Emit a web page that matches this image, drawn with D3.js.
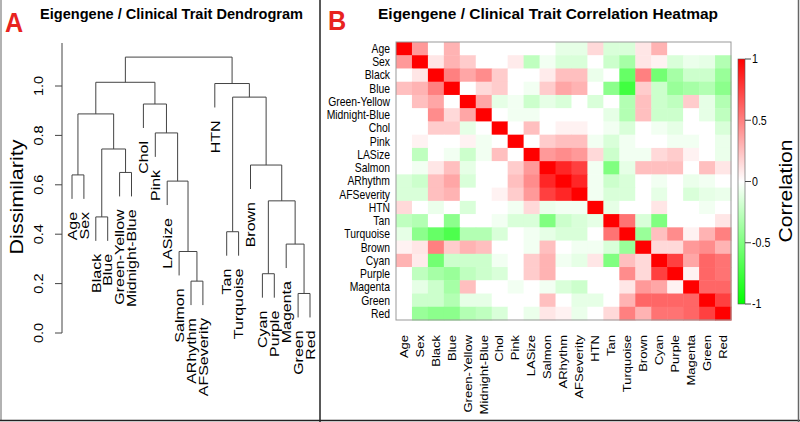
<!DOCTYPE html>
<html><head><meta charset="utf-8">
<script src="https://cdn.jsdelivr.net/npm/d3@7"></script>
<style>body{margin:0;background:#fff}svg{display:block;font-family:"Liberation Sans",Arial,Helvetica,sans-serif}</style>
</head><body><svg id="c" width="800" height="422"></svg>
<script>
const labels = ["Age","Sex","Black","Blue","Green-Yellow","Midnight-Blue","Chol","Pink","LASize","Salmon","ARhythm","AFSeverity","HTN","Tan","Turquoise","Brown","Cyan","Purple","Magenta","Green","Red"];

const corr = [
 [1,0.4,0,0.3,0,0,0,0,0,0,-0.1,-0.1,0.15,-0.15,-0.15,0.1,0.3,0,0,0,0],
 [0.4,1,0.1,0.3,0.2,0,0,0.08,-0.25,-0.05,-0.15,-0.15,0,-0.2,-0.35,0.1,0.05,-0.15,-0.08,-0.1,-0.3],
 [0,0.1,1,0.5,0.35,0.45,0.2,0,0,0.08,0.25,0.25,-0.08,0,-0.6,0.5,-0.55,-0.35,-0.2,-0.2,-0.4],
 [0.25,0.3,0.5,1,0,0.15,0.2,0,-0.05,0.2,0.35,0.3,0,-0.45,-0.75,0.2,-0.2,-0.4,-0.35,-0.3,-0.45],
 [0,0.25,0.35,0,1,0.35,-0.1,-0.05,-0.2,-0.1,-0.15,0,-0.15,0,-0.3,0.25,-0.2,-0.25,0.2,-0.1,-0.3],
 [0,0,0.45,0.15,0.35,1,0,-0.05,-0.05,0,0,0,0,-0.1,-0.3,0.25,-0.2,-0.2,0,-0.1,-0.25],
 [0,0,0.2,0.2,-0.1,0,1,0,0.25,0,0.05,0.05,0,-0.05,-0.15,0,-0.05,-0.1,0,0,-0.15],
 [0,0.05,0,0,0.05,-0.05,0,1,0,0.2,0.25,0.25,-0.05,-0.15,-0.05,0,0,-0.05,-0.05,0,-0.08],
 [0,-0.25,0,-0.05,-0.2,-0.05,0.25,0,1,0.4,0.45,0.4,0.15,-0.2,-0.05,-0.05,0.15,0.2,0.05,0,-0.08],
 [0,-0.05,0.1,0.25,-0.1,0,0,0.2,0.4,1,0.85,0.75,-0.05,-0.5,-0.1,0.25,0.25,0.25,0,0.25,0.1],
 [-0.15,-0.2,0.25,0.35,-0.15,0,0,0.25,0.45,0.85,1,0.85,-0.05,-0.2,-0.15,0,-0.05,0,-0.08,-0.05,0],
 [-0.15,-0.15,0.25,0.3,0,0,0.05,0.2,0.4,0.75,0.85,1,-0.05,-0.15,-0.15,0,-0.1,0,-0.15,-0.1,-0.08],
 [0.15,0,-0.08,0,-0.15,0,0,-0.05,0.15,-0.08,-0.05,-0.05,1,-0.1,0,0,0.1,0,0,-0.05,0],
 [-0.25,-0.3,0,-0.45,0,0,-0.05,-0.15,-0.15,-0.5,-0.2,-0.15,-0.1,1,0.55,-0.15,-0.5,0,0,0,0.1],
 [-0.1,-0.45,-0.6,-0.7,-0.3,-0.3,-0.15,0,-0.05,-0.1,-0.15,-0.15,0,0.55,1,-0.4,0.25,0.45,0.05,0.3,0.5],
 [0.05,0.1,0.5,0.2,0.3,0.25,0,0,-0.05,0.25,0,-0.05,-0.05,-0.15,-0.4,1,0.15,0.15,0.4,0.45,0.3],
 [0.3,0.08,-0.55,-0.2,-0.2,-0.2,-0.05,0,0.2,0.3,-0.05,-0.1,0.1,-0.5,0.25,0.15,1,0.75,0.35,0.6,0.55],
 [0,-0.25,-0.35,-0.4,-0.25,-0.2,-0.15,0,0.2,0.3,0,0,0,0,0.45,0.15,0.75,1,0.05,0.6,0.55],
 [0,-0.1,-0.2,-0.35,0.25,0,0,-0.05,0,-0.05,-0.15,-0.2,0,0,0.1,0.4,0.35,0.05,1,0.6,0.6],
 [0,-0.2,-0.2,-0.3,-0.1,-0.1,0,0,0,0.25,0,-0.1,-0.1,0,0.3,0.6,0.6,0.6,0.6,1,0.75],
 [0,-0.4,-0.45,-0.45,-0.3,-0.25,-0.15,0,-0.08,0.1,0.05,-0.08,0,0.15,0.5,0.3,0.55,0.55,0.6,0.75,1]
];

// hclust-style merges: negative = leaf (1-based), positive = earlier merge (1-based)
const mergePairs = [[-1,-2],[-3,-4],[-5,-6],[2,3],[1,4],[-11,-12],[-10,6],[-9,7],[-8,8],[-7,9],[5,10],
  [-14,-15],[-20,-21],[-19,13],[-17,-18],[15,14],[-16,16],[12,17],[-13,18],[11,19]];
const mergeHeights = [0.64,0.47,0.65,0.745,0.887,0.21,0.33,0.615,0.81,0.927,1.015,
  0.41,0.16,0.36,0.24,0.535,0.68,0.955,1.01,1.117];
const dissimTicks = [0,0.2,0.4,0.6,0.8,1.0];
const legendTicks = [1,0.5,0,-0.5,-1];

const svg = d3.select("#c");
function txt(g, x, y, s, o) {
  o = o || {};
  const t = g.append("text")
    .attr("transform", `translate(${x},${y}) scale(${o.sx||1},1) rotate(${o.rot||0})`)
    .attr("font-size", o.size || 12)
    .attr("font-weight", o.bold ? "bold" : null)
    .attr("fill", o.fill || "#000")
    .attr("text-anchor", o.anchor || "start")
    .text(s);
  if (o.dy) t.attr("dy", o.dy);
  if (o.len) t.attr("textLength", o.len).attr("lengthAdjust", "spacingAndGlyphs");
  return t;
}

// panel borders
svg.append("line").attr("x1",1).attr("y1",0).attr("x2",1).attr("y2",421).attr("stroke","#999").attr("stroke-width",1.5);
svg.append("line").attr("x1",0).attr("y1",420.5).attr("x2",800).attr("y2",420.5).attr("stroke","#222").attr("stroke-width",1.5);
svg.append("line").attr("x1",320).attr("y1",0).attr("x2",320).attr("y2",422).attr("stroke","#222").attr("stroke-width",1.5);
svg.append("line").attr("x1",798.5).attr("y1",0).attr("x2",798.5).attr("y2",422).attr("stroke","#666").attr("stroke-width",1.5);

// ===== Panel A: dendrogram =====
const gA = svg.append("g");
txt(gA, 5, 32, "A", {size: 28, bold: true, fill: "#e8231f", sx: 0.9});
txt(gA, 40, 19, "Eigengene / Clinical Trait Dendrogram", {size: 15.5, bold: true, len: 263});

const xL = d3.scalePoint().domain(labels).range([72, 310]);
const yD = d3.scaleLinear().domain([0, 1]).range([333, 86]);
const hang = 0.097;

// axis
gA.append("line").attr("x1",62).attr("x2",62).attr("y1",yD(0)).attr("y2",43).attr("stroke","#444");
dissimTicks.forEach(t => {
  gA.append("line").attr("x1",55).attr("x2",62).attr("y1",yD(t)).attr("y2",yD(t)).attr("stroke","#444");
  txt(gA, 43, yD(t), t.toFixed(1), {size: 14.5, rot: -90, anchor: "middle", sx: 0.85});
});
txt(gA, 23, 197, "Dissimilarity", {size: 21, rot: -90, anchor: "middle", len: 115, sx: 0.85});

// dendrogram nodes
const nodes = [];
function childInfo(id) {
  if (id < 0) return {leaf: true, idx: -id - 1, x: xL(labels[-id - 1])};
  return {leaf: false, x: nodes[id - 1].x, h: mergeHeights[id - 1]};
}
mergePairs.forEach((p, i) => {
  const h = mergeHeights[i];
  const a = childInfo(p[0]), b = childInfo(p[1]);
  const ya = a.leaf ? yD(h - hang) : yD(a.h);
  const yb = b.leaf ? yD(h - hang) : yD(b.h);
  gA.append("path")
    .attr("d", `M${a.x},${ya}V${yD(h)}H${b.x}V${yb}`)
    .attr("fill","none").attr("stroke","#444").attr("stroke-width",1);
  [a, b].forEach(c => {
    if (c.leaf) txt(gA, c.x, yD(h - hang) + 13, labels[c.idx], {size: 16, rot: -90, anchor: "end", dy: "0.35em", sx: 0.85});
  });
  nodes.push({x: (a.x + b.x) / 2});
});

// ===== Panel B: heatmap =====
const gB = svg.append("g");
txt(gB, 328, 30, "B", {size: 28, bold: true, fill: "#e8231f", sx: 0.9});
txt(gB, 378, 19, "Eigengene / Clinical Trait Correlation Heatmap", {size: 15.5, bold: true, len: 340});

const xH = d3.scaleBand().domain(labels).range([396, 731]);
const yH = d3.scaleBand().domain(labels).range([42, 320]);
const color = d3.scaleLinear().domain([-1, 0, 1]).range(["#00ff00", "#ffffff", "#ff0000"]);

corr.forEach((row, r) => row.forEach((v, c) => {
  gB.append("rect").attr("x", xH(labels[c])).attr("y", yH(labels[r]))
    .attr("width", xH.bandwidth() + 0.5).attr("height", yH.bandwidth() + 0.5)
    .attr("fill", color(v));
}));
gB.append("rect").attr("x",396).attr("y",42).attr("width",335).attr("height",278)
  .attr("fill","none").attr("stroke","#999").attr("stroke-width",1);

labels.forEach(l => {
  txt(gB, 390, yH(l) + yH.bandwidth() / 2, l, {size: 12.5, anchor: "end", dy: "0.35em", sx: 0.83});
  txt(gB, xH(l) + xH.bandwidth() / 2, 335, l, {size: 13, rot: -90, anchor: "end", dy: "0.35em", sx: 0.83});
});

// color legend
const defs = svg.append("defs");
const grad = defs.append("linearGradient").attr("id","cg").attr("x1",0).attr("y1",0).attr("x2",0).attr("y2",1);
[[0,"#ff0000"],[0.5,"#ffffff"],[1,"#00ff00"]].forEach(s => grad.append("stop").attr("offset", s[0]).attr("stop-color", s[1]));
const yC = d3.scaleLinear().domain([-1, 1]).range([304, 59]);
gB.append("rect").attr("x",738).attr("y",59).attr("width",7).attr("height",245)
  .attr("fill","url(#cg)").attr("stroke","#555").attr("stroke-width",0.6);
legendTicks.forEach(t => {
  gB.append("line").attr("x1",745).attr("x2",751).attr("y1",yC(t)).attr("y2",yC(t)).attr("stroke","#444");
  txt(gB, 752, yC(t), String(t), {size: 12.5, dy: "0.35em", sx: 0.85});
});
txt(gB, 792, 191, "Correlation", {size: 21, rot: -90, anchor: "middle", len: 103, sx: 0.85});
</script></body></html>
